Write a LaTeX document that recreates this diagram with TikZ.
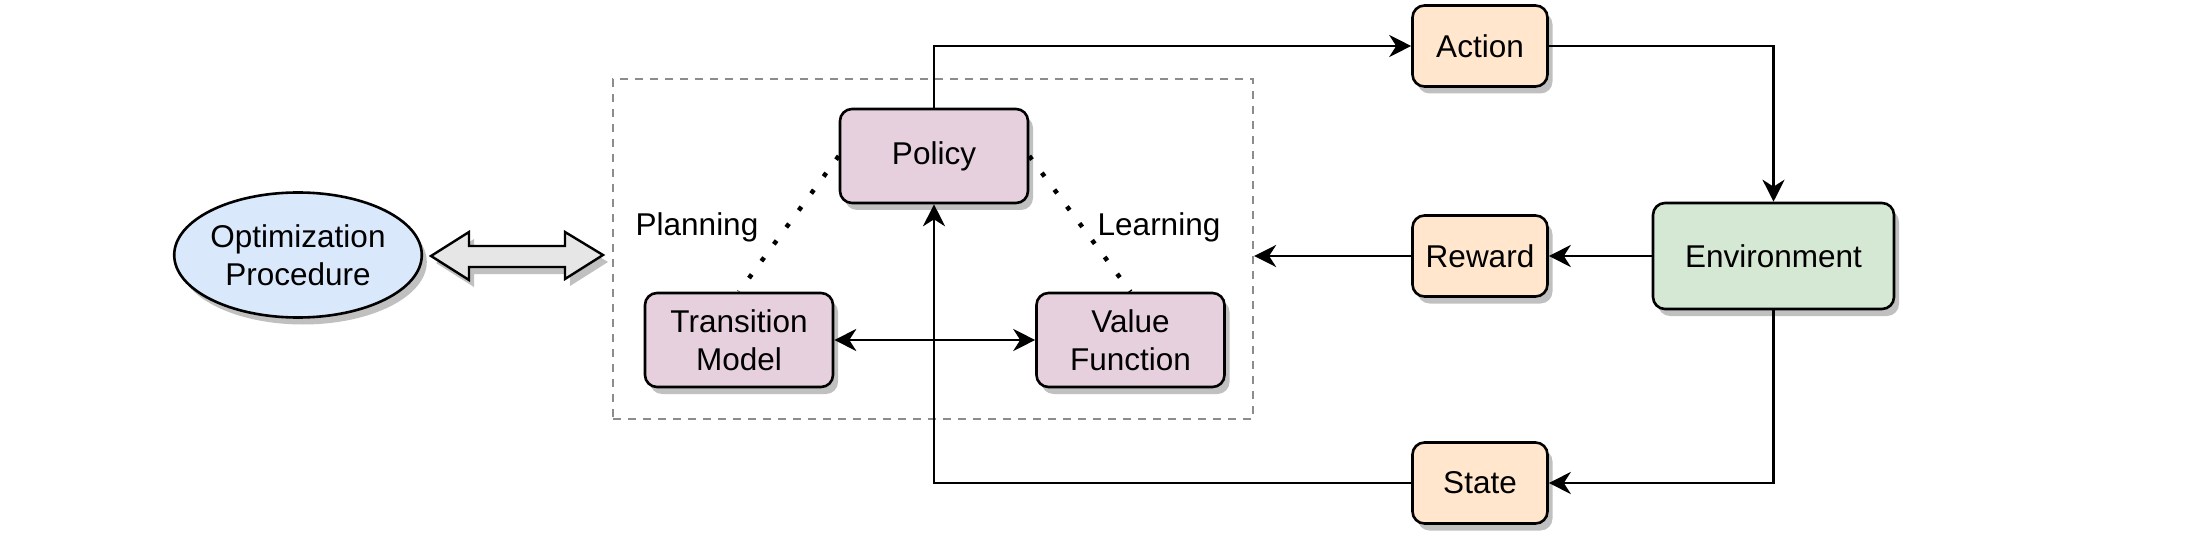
\documentclass[tikz,border=0pt]{standalone}
\usepackage{fontspec}
\setmainfont{Liberation Sans}
\usetikzlibrary{arrows.meta,shadows,shapes.geometric,calc}
\definecolor{purp}{HTML}{E6D0DE}
\definecolor{orng}{HTML}{FFE6CC}
\definecolor{grn}{HTML}{D5E8D4}
\definecolor{blu}{HTML}{DAE8FC}
\definecolor{arrgray}{HTML}{E6E6E6}
\definecolor{shd}{HTML}{C0C0C0}
\definecolor{dgray}{HTML}{8C8C8C}
\begin{document}
\begin{tikzpicture}[x=1pt,y=-1pt,
  font=\fontsize{31.5}{38}\selectfont,
  sh/.style={drop shadow={shadow xshift=5pt,shadow yshift=-7pt,opacity=1,fill=shd}},
  box/.style={draw=black, line width=2.6pt, rounded corners=12pt, inner sep=0pt, align=center, sh},
  pbox/.style={box, fill=purp, minimum width=188pt, minimum height=94pt},
  obox/.style={box, fill=orng, minimum width=135pt, minimum height=81pt},
  tipA/.tip={Stealth[length=22pt,width=22pt,inset=7pt]},
  conn/.style={line width=2.6pt, -tipA},
  conn2/.style={line width=2.6pt, tipA-tipA},
  dotline/.style={line width=4.5pt, dash pattern=on 4.5pt off 16.5pt},
  grp/.style={draw=dgray, line width=2.2pt, dash pattern=on 8pt off 7pt, inner sep=0pt, minimum width=640pt, minimum height=340pt},
  lbl/.style={inner sep=0pt}
]
\useasboundingbox (0,0) rectangle (2200,540);

% group box
\node[grp] (group) at (933,249) {};

% nodes
\node[ellipse, draw=black, line width=2.6pt, fill=blu, minimum width=238pt, minimum height=125pt, inner sep=0pt, align=center, sh] (opt) at (298,255) {Optimization\\Procedure};
\node[pbox] (policy) at (934,156) {Policy};
\node[pbox] (trans) at (739,340) {Transition\\Model};
\node[pbox] (value) at (1130.5,340) {Value\\Function};
\node[obox] (action) at (1480,46) {Action};
\node[obox] (reward) at (1480,256) {Reward};
\node[obox] (state) at (1480,483) {State};
\node[box, fill=grn, minimum width=241pt, minimum height=106pt] (env) at (1773.5,256) {Environment};

\node[lbl] (plan) at (697,227) {Planning};
\node[lbl] (learn) at (1159,227) {Learning};

% block double arrow
\coordinate (dl) at (431,256);
\coordinate (dr) at (603,255);
\path[draw=black, line width=2.4pt, fill=arrgray, line join=miter, sh]
  (dl) -- ++(38,-24) -- ++(0,14) -- ++(96,0) -- ++(0,-14) -- (dr)
  -- ++(-38,24) -- ++(0,-12) -- ++(-96,0) -- ++(0,13) -- cycle;

% connectors
\draw[conn] (policy.north) |- (action.west);
\draw[conn] (action.east) -| (env.north);
\draw[conn] (env.west) -- (reward.east);
\draw[conn] (reward.west) -- (reward.west -| group.east);
\draw[conn] (env.south) |- (state.east);
\draw[conn] (state.west) -| (policy.south);
\draw[conn2] (trans.east) -- (value.west);

% dotted relations
\draw[dotline] (policy.west) -- (trans.north);
\draw[dotline] (policy.east) -- (value.north);
\end{tikzpicture}
\end{document}
